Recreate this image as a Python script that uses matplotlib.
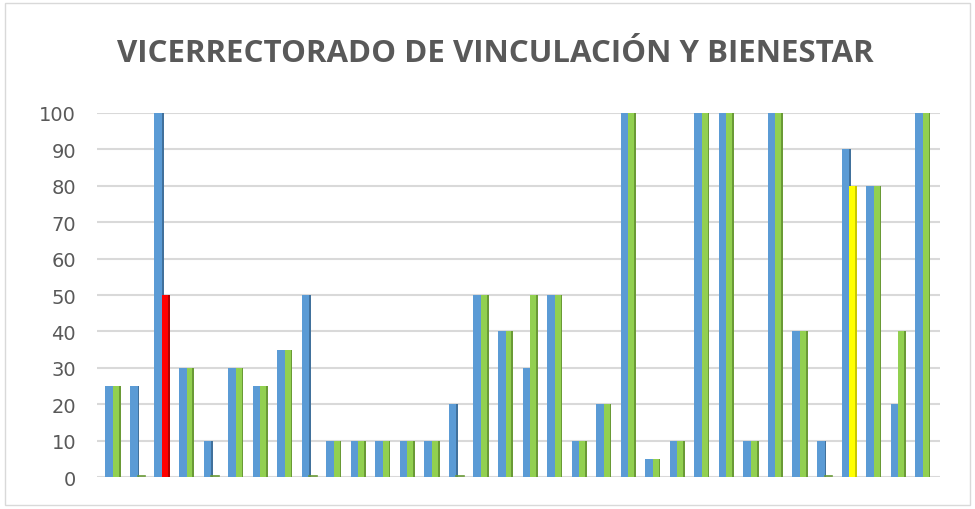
import matplotlib
matplotlib.use("Agg")
import matplotlib.pyplot as plt
import numpy as np
from matplotlib.patches import Rectangle

title = "VICERRECTORADO DE VINCULACIÓN Y BIENESTAR"
serie_azul = [25, 25, 100, 30, 10, 30, 25, 35, 50, 10, 10, 10, 10, 10, 20, 50, 40, 30, 50, 10,
              20, 100, 5, 10, 100, 100, 10, 100, 40, 10, 90, 80, 20, 100]
serie_verde = [25, 0, 50, 30, 0, 30, 25, 35, 0, 10, 10, 10, 10, 10, 0, 50, 40, 50, 50, 10,
               20, 100, 5, 10, 100, 100, 10, 100, 40, 0, 80, 80, 40, 100]
colores_verde = ["#92D050"] * len(serie_verde)
colores_verde[2] = "#FF0000"
colores_verde[30] = "#FFFF00"
lados_verde = ["#6A9A36"] * len(serie_verde)
lados_verde[2] = "#B00000"
lados_verde[30] = "#C8C800"
yticks = [0, 10, 20, 30, 40, 50, 60, 70, 80, 90, 100]

fig = plt.figure(figsize=(9.75, 5.1), dpi=100)
ax = fig.add_axes([0.0995, 0.0627, 0.8645, 0.7138])

x = np.arange(len(serie_azul))
w = 0.31
side = 0.07
# blue: face + darker side (side partly hidden behind green)
ax.bar(x - w, serie_azul, width=w, color="#5B9BD5", zorder=3, align="edge")
ax.bar(x, serie_azul, width=side, color="#41719C", zorder=3, align="edge")
# green: face + darker side
ax.bar(x, serie_verde, width=w - side, color=colores_verde, zorder=4, align="edge")
ax.bar(x + w - side, serie_verde, width=side, color=lados_verde, zorder=4, align="edge")
# small sliver for zero values
for xi, v in zip(x, serie_verde):
    if v == 0:
        ax.plot([xi, xi + w], [0.3, 0.3], color="#6A9A36", lw=1.2, zorder=5)

ax.set_xlim(-0.65, len(x) - 0.3)
ax.set_ylim(0, 100)
ax.set_yticks(yticks)
ax.set_xticks([])
ax.yaxis.grid(True, color="#D9D9D9", lw=1.5, zorder=0)
ax.tick_params(axis="y", length=0, labelsize=14, labelcolor="#595959", pad=15)
for s in ax.spines.values():
    s.set_visible(False)

fig.text(0.508, 0.895, title, ha="center", va="center", fontsize=22.5, fontweight="bold",
         color="#595959", family="Open Sans")
fig.patches.append(Rectangle((0.005, 0.008), 0.99, 0.985, transform=fig.transFigure,
                             fill=False, edgecolor="#D9D9D9", lw=1))
fig.savefig("out.png", dpi=100)
